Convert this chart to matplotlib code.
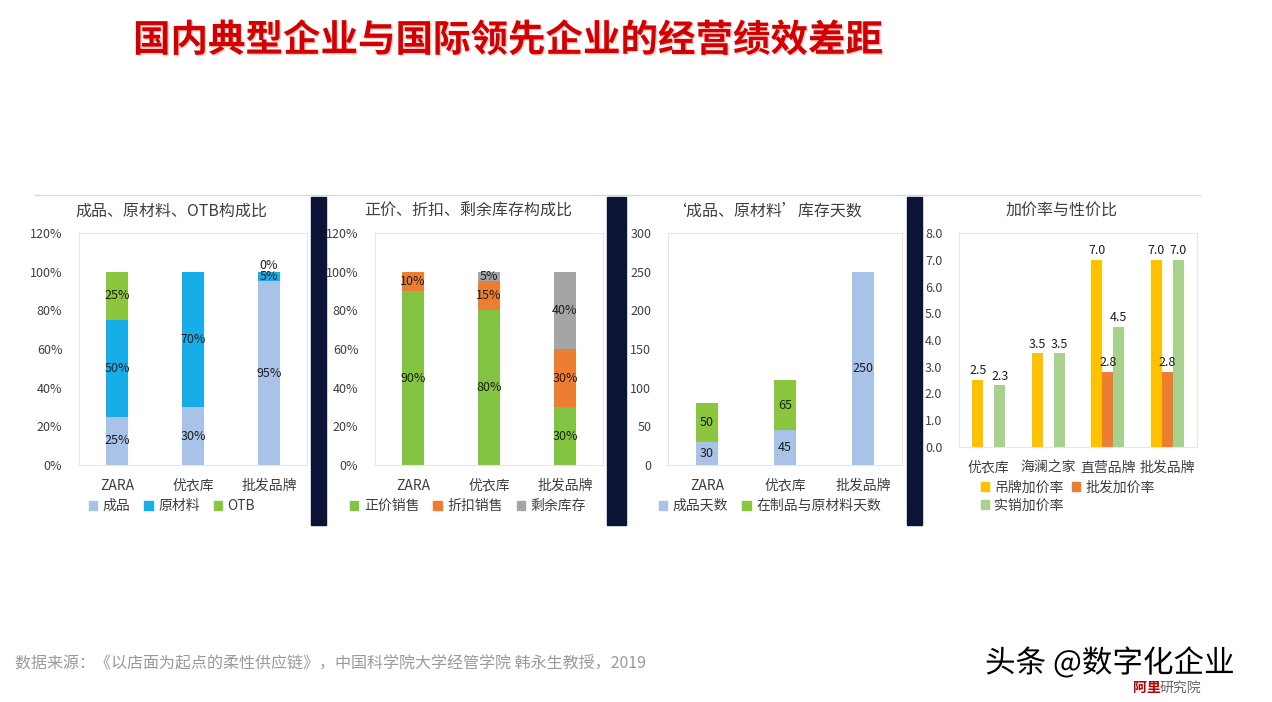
import numpy as np
import matplotlib
matplotlib.use("Agg")
from matplotlib import pyplot as plt
from matplotlib.patches import Patch
import matplotlib.patheffects as pe

plt.rcParams['font.family'] = ['Noto Sans CJK SC', 'DejaVu Sans']

# ---------------- data ----------------
title = "国内典型企业与国际领先企业的经营绩效差距"
source = "数据来源：《以店面为起点的柔性供应链》，中国科学院大学经管学院 韩永生教授，2019"

cats3 = ["ZARA", "优衣库", "批发品牌"]

# panel 1: 成品、原材料、OTB构成比
p1_title = "成品、原材料、OTB构成比"
p1_names = ["成品", "原材料", "OTB"]
p1_vals = [[0.25, 0.30, 0.95],
           [0.50, 0.70, 0.05],
           [0.25, 0.00, 0.00]]

# panel 2: 正价、折扣、剩余库存构成比
p2_title = "正价、折扣、剩余库存构成比"
p2_names = ["正价销售", "折扣销售", "剩余库存"]
p2_vals = [[0.90, 0.80, 0.30],
           [0.10, 0.15, 0.30],
           [0.00, 0.05, 0.40]]

# panel 3: 库存天数
p3_title = "‘成品、原材料’库存天数"
p3_names = ["成品天数", "在制品与原材料天数"]
p3_vals = [[30, 45, 250],
           [50, 65, 0]]

# panel 4: 加价率与性价比
p4_title = "加价率与性价比"
p4_cats = ["优衣库", "海澜之家", "直营品牌", "批发品牌"]
p4_names = ["吊牌加价率", "批发加价率", "实销加价率"]
p4_vals = [[2.5, 3.5, 7.0, 7.0],
           [0.0, 0.0, 2.8, 2.8],
           [2.3, 3.5, 4.5, 7.0]]

# ---------------- figure ----------------
W, H = 1272, 702
fig = plt.figure(figsize=(W / 100, H / 100), dpi=100)
fig.patch.set_facecolor("white")

def px_axes(l, r, t, b):
    return fig.add_axes([l / W, 1 - b / H, (r - l) / W, (b - t) / H])

def fx(x):
    return x / W

def fy(y):
    return 1 - y / H

txt_c = "#404040"
lab_c = "#1e1e1e"

def style(ax):
    for s in ax.spines.values():
        s.set_color("#e6e6e6")
        s.set_linewidth(0.8)
    ax.tick_params(length=0, labelsize=9, colors=txt_c)
    ax.tick_params(axis="y", pad=12)
    ax.tick_params(axis="x", pad=10, labelsize=10)

# title
fig.text(fx(508), fy(40), title, ha="center", va="center", fontsize=27,
         fontweight="bold", color="#d40000",
         path_effects=[pe.withSimplePatchShadow(offset=(1, -1),
                                                shadow_rgbFace="#f4b0b0", alpha=0.6)])

# thin line above panels
fig.add_artist(plt.Line2D([fx(35), fx(1200)], [fy(195), fy(195)],
                          color="#d9d9d9", lw=1))

# dark separators
for x0, x1 in [(311, 326), (607, 626), (907, 922)]:
    fig.add_artist(plt.Rectangle((fx(x0), fy(525)), fx(x1) - fx(x0), fy(197) - fy(525),
                                 color="#0b1436", transform=fig.transFigure))

x3 = np.arange(3)
bw = 0.29

def stacked(ax, vals, colors, fmt, ymax):
    bottom = np.zeros(3)
    for v, c in zip(vals, colors):
        v = np.array(v, dtype=float)
        ax.bar(x3, v, bw, bottom=bottom, color=c)
        for i in range(3):
            if v[i] > 0:
                ax.text(x3[i], bottom[i] + v[i] / 2, fmt(v[i]), ha="center",
                        va="center", fontsize=9, color=lab_c)
        bottom += v
    ax.set_xlim(-0.5, 2.5)
    ax.set_ylim(0, ymax)
    ax.set_xticks(x3)
    ax.set_xticklabels(cats3)

pct = lambda v: f"{v * 100:.0f}%"

# panel 1
ax1 = px_axes(79, 307, 233, 465)
c1 = ["#a9c2e8", "#17ade8", "#8cc63f"]
stacked(ax1, p1_vals, c1, pct, 1.2)
ax1.text(2, 1.0 + 0.03, "0%", ha="center", va="center", fontsize=9, color=lab_c)
ax1.set_yticks(np.arange(0, 1.21, 0.2))
ax1.set_yticklabels([f"{v}%" for v in range(0, 121, 20)])
style(ax1)
fig.text(fx(171), fy(211), p1_title, ha="center", va="center", fontsize=11.5, color=txt_c)
fig.legend([Patch(color=c) for c in c1], p1_names, loc="center",
           bbox_to_anchor=(fx(172), fy(506)), ncol=3, frameon=False, fontsize=10,
           handlelength=0.6, handleheight=0.6, handletextpad=0.4, columnspacing=1.0,
           labelcolor=txt_c)

# panel 2
ax2 = px_axes(375, 603, 233, 465)
c2 = ["#82c341", "#ed7d31", "#a5a5a5"]
stacked(ax2, p2_vals, c2, pct, 1.2)
ax2.set_yticks(np.arange(0, 1.21, 0.2))
ax2.set_yticklabels([f"{v}%" for v in range(0, 121, 20)])
style(ax2)
fig.text(fx(468), fy(211), p2_title, ha="center", va="center", fontsize=11.5, color=txt_c)
fig.legend([Patch(color=c) for c in c2], p2_names, loc="center",
           bbox_to_anchor=(fx(468), fy(506)), ncol=3, frameon=False, fontsize=10,
           handlelength=0.6, handleheight=0.6, handletextpad=0.4, columnspacing=1.0,
           labelcolor=txt_c)

# panel 3
ax3 = px_axes(668, 902, 233, 465)
c3 = ["#a9c2e8", "#8cc63f"]
stacked(ax3, p3_vals, c3, lambda v: f"{v:.0f}", 300)
ax3.set_yticks(np.arange(0, 301, 50))
style(ax3)
fig.text(fx(766), fy(211), p3_title, ha="center", va="center", fontsize=11.5, color=txt_c)
fig.legend([Patch(color=c) for c in c3], p3_names, loc="center",
           bbox_to_anchor=(fx(770), fy(506)), ncol=2, frameon=False, fontsize=10,
           handlelength=0.6, handleheight=0.6, handletextpad=0.4, columnspacing=1.0,
           labelcolor=txt_c)

# panel 4
ax4 = px_axes(959, 1197, 233, 447)
c4 = ["#ffc000", "#ed7d31", "#a9d18e"]
x4 = np.arange(4)
gw = 0.185
for k, (v, c) in enumerate(zip(p4_vals, c4)):
    xs = x4 + (k - 1) * gw
    ax4.bar(xs, v, gw, color=c)
    for xi, vi in zip(xs, v):
        if vi > 0:
            ax4.text(xi, vi + 0.1, f"{vi:.1f}", ha="center", va="bottom",
                     fontsize=9, color=lab_c)
ax4.set_xlim(-0.5, 3.5)
ax4.set_ylim(0, 8)
ax4.set_xticks(x4)
ax4.set_xticklabels(p4_cats)
ax4.set_yticks(np.arange(0, 8.1, 1))
ax4.set_yticklabels([f"{v:.1f}" for v in np.arange(0, 8.1, 1)])
style(ax4)
fig.text(fx(1062), fy(211), p4_title, ha="center", va="center", fontsize=11.5, color=txt_c)
order = [0, 2, 1]
fig.legend([Patch(color=c4[i]) for i in order], [p4_names[i] for i in order],
           loc="upper left", bbox_to_anchor=(fx(968), fy(468)), ncol=2, frameon=False,
           fontsize=10, handlelength=0.6, handleheight=0.6, handletextpad=0.4,
           columnspacing=0.6, labelspacing=0.3, labelcolor=txt_c)

# source
fig.text(fx(15), fy(664), source, ha="left", va="center", fontsize=11.5, color="#9a9a9a")

# watermark area
fig.text(fx(1133), fy(688), "阿里", ha="left", va="center", fontsize=10,
         color="#c00000", fontweight="bold")
fig.text(fx(1160), fy(688), "研究院", ha="left", va="center", fontsize=10, color="#666666")
fig.text(fx(985), fy(663), "头条 @数字化企业", ha="left", va="center", fontsize=22,
         color="black", path_effects=[pe.withStroke(linewidth=3, foreground="white")])

fig.savefig("out.png", dpi=100)
